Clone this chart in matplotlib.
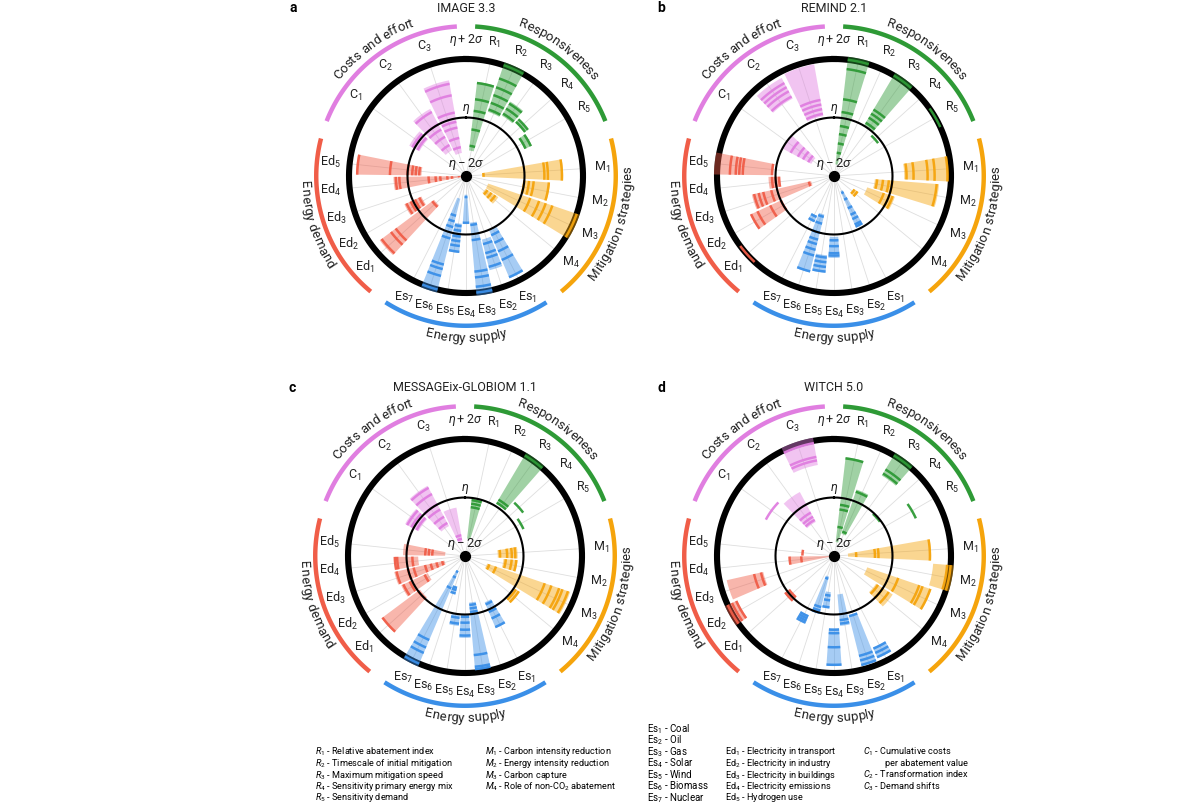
import numpy as np
import matplotlib
matplotlib.use("Agg")
import matplotlib.pyplot as plt
from matplotlib.font_manager import FontProperties

plt.rcParams['font.family'] = ['Roboto', 'DejaVu Sans']
plt.rcParams['mathtext.fontset'] = 'custom'
plt.rcParams['mathtext.rm'] = 'Roboto'
plt.rcParams['mathtext.it'] = 'Roboto:italic'
plt.rcParams['mathtext.bf'] = 'Roboto:bold'

# Indicator groups
groups = ['Responsiveness', 'Mitigation strategies', 'Energy supply',
          'Energy demand', 'Costs and effort']
group_sizes = [5, 4, 7, 5, 3]
group_colors = ['#2e9a36', '#f5a40c', '#3a8fe8', '#f05d48', '#e07ee0']
tick_labels = ['R$_1$', 'R$_2$', 'R$_3$', 'R$_4$', 'R$_5$',
               'M$_1$', 'M$_2$', 'M$_3$', 'M$_4$',
               'Es$_1$', 'Es$_2$', 'Es$_3$', 'Es$_4$', 'Es$_5$', 'Es$_6$', 'Es$_7$',
               'Ed$_1$', 'Ed$_2$', 'Ed$_3$', 'Ed$_4$', 'Ed$_5$',
               'C$_1$', 'C$_2$', 'C$_3$']

# values on the scale: 0 = eta - 2 sigma, 0.5 = eta, 1 = eta + 2 sigma
# order: R1-R5, M1-M4, Es1-Es7, Ed1-Ed5, C1-C3  (None = no range bar)
image_lo = [0.22, 0.58, 0.60, 0.62, 0.55, 0.14, 0.49, 0.20, 0.20,
            0.50, 0.56, 0.40, 0.16, 0.41, 0.20, None,
            0.34, 0.42, None, 0.04, 0.38, 0.45, 0.25, 0.20]
image_hi = [0.81, 1.00, 0.74, 0.66, 0.62, 0.83, 0.72, 1.00, 0.33,
            0.95, 0.83, 1.00, 0.40, 0.66, 1.00, None,
            0.92, 0.58, None, 0.62, 0.94, 0.55, 0.65, 0.83]
image_vals = [[0.26, 0.40, 0.56, 0.66, 0.80], [0.60, 0.66, 0.73, 0.80, 0.88, 1.0],
              [0.62, 0.67, 0.72], [0.63, 0.66], [0.56, 0.61],
              [0.15, 0.67, 0.70, 0.82], [0.50, 0.54, 0.58, 0.71],
              [0.58, 0.66, 0.72, 0.78, 1.0], [0.22, 0.26, 0.30],
              [0.55, 0.62, 0.70, 0.78, 0.94], [0.60, 0.68, 0.72, 0.80],
              [0.42, 0.55, 0.82, 0.87, 0.95, 1.0], [0.18, 0.40],
              [0.43, 0.47, 0.52, 0.56, 0.60, 0.65],
              [0.35, 0.40, 0.45, 0.55, 0.78, 0.82, 0.88, 1.0], [],
              [0.36, 0.75, 0.80, 0.90], [0.44, 0.48, 0.52, 0.56], [],
              [0.06, 0.12, 0.16, 0.22, 0.26, 0.32, 0.57, 0.60],
              [0.40, 0.43, 0.46, 0.50, 0.65, 0.93],
              [0.47, 0.52], [0.30, 0.38, 0.45, 0.50, 0.62],
              [0.25, 0.33, 0.42, 0.47, 0.55, 0.70, 0.80]]

remind_lo = [0.10, None, 0.50, None, None, 0.60, 0.35, 0.30, 0.20,
             0.14, None, None, 0.52, 0.68, 0.34, 0.37,
             None, 0.49, 0.20, 0.46, 0.52, 0.22, 0.75, 0.52]
remind_hi = [1.00, None, 1.00, None, None, 0.98, 0.90, 0.55, 0.25,
             0.48, None, None, 0.70, 0.83, 0.85, 0.43,
             None, 0.79, 0.72, 0.56, 1.00, 0.50, 0.95, 0.97]
remind_vals = [[0.20, 0.28, 0.36, 0.43, 0.55, 0.66, 0.92, 1.0], [],
               [0.53, 0.58, 0.62, 0.66, 1.0], [0.47], [1.0],
               [0.62, 0.68, 0.80, 0.86, 0.97], [0.37, 0.42, 0.47, 0.50, 0.88],
               [0.45, 0.50, 0.53], [0.21, 0.24],
               [0.16, 0.22, 0.30, 0.36, 0.40, 0.45, 0.47], [], [],
               [0.55, 0.60, 0.66, 0.68], [0.70, 0.74, 0.78, 0.82],
               [0.36, 0.42, 0.50, 0.56, 0.60, 0.65, 0.70, 0.84], [0.38, 0.42],
               [1.0], [0.50, 0.60, 0.72, 0.78], [0.22, 0.55, 0.62, 0.66, 0.70],
               [0.47, 0.50, 0.53], [0.53, 0.78, 0.81, 0.84, 0.89],
               [0.25, 0.30, 0.35, 0.42], [0.77, 0.82, 0.86, 0.90],
               [0.54, 0.58, 0.62, 0.66]]

message_lo = [0.15, None, 0.52, None, None, 0.28, 0.33, 0.20, 0.51,
              0.43, None, 0.40, 0.50, 0.50, 0.28, 0.14,
              0.48, 0.35, 0.18, 0.40, 0.17, 0.45, 0.29, 0.12]
message_hi = [0.50, None, 1.00, None, None, 0.45, 0.45, 0.95, 0.56,
              0.67, None, 0.98, 0.70, 0.60, 0.33, 1.00,
              0.89, 0.60, 0.62, 0.60, 0.53, 0.58, 0.68, 0.42]
message_vals = [[0.42, 0.45, 0.48], [], [0.53, 0.56, 1.0], [0.62], [0.55],
                [0.30, 0.36, 0.40, 0.43], [0.35, 0.40, 0.44],
                [0.22, 0.28, 0.72, 0.78, 0.85, 0.88, 0.93], [0.52, 0.55],
                [0.45, 0.52, 0.58, 0.66], [], [0.42, 0.45, 0.48, 0.85, 0.95, 0.97],
                [0.52, 0.57, 0.63, 0.68], [0.53, 0.58], [0.28, 0.30, 0.33],
                [0.15, 0.20, 0.30, 0.78, 0.85, 0.90, 1.0],
                [0.50, 0.88], [0.38, 0.52, 0.58],
                [0.20, 0.25, 0.30, 0.35, 0.45, 0.50, 0.60], [0.45, 0.58, 0.60],
                [0.28, 0.31, 0.34],
                [0.47, 0.52, 0.56], [0.32, 0.38, 0.45, 0.50, 0.60, 0.66], [0.15, 0.18]]

witch_lo = [0.12, 0.20, 0.80, None, None, 0.12, 0.85, 0.30, 0.43,
            0.85, 0.52, 0.33, 0.62, 0.31, 0.18, 0.55,
            0.48, 0.91, 0.62, 0.04, None, None, 0.33, 0.79]
witch_hi = [0.85, 0.60, 1.00, None, None, 0.83, 1.00, 0.88, 0.60,
            0.95, 0.97, 0.60, 0.94, 0.45, 0.50, 0.62,
            0.53, 1.00, 0.94, 0.38, None, None, 0.62, 1.00]
witch_vals = [[0.25, 0.40, 0.44, 0.84], [0.22, 0.58], [0.82, 0.86, 1.0], [0.49], [0.77],
              [0.19, 0.35, 0.38, 0.82], [0.97, 1.0], [0.58, 0.77, 0.80, 0.87],
              [0.45, 0.50, 0.56],
              [0.86, 0.90, 0.94], [0.53, 0.88, 0.92, 0.96], [0.55, 0.58],
              [0.63, 0.66, 0.78, 0.93], [0.34, 0.38, 0.44], [0.20, 0.45, 0.48, 0.50],
              [0.56, 0.58, 0.60, 0.62],
              [0.48, 0.52], [0.92, 0.96, 1.0], [0.64, 0.70], [0.28, 0.38], [0.27],
              [0.66], [0.35, 0.38, 0.42], [0.83, 0.86, 0.98]]

models = ['IMAGE 3.3', 'REMIND 2.1', 'MESSAGEix-GLOBIOM 1.1', 'WITCH 5.0']
letters = ['a', 'b', 'c', 'd']

legend_r = [r'$R_1$ - Relative abatement index', r'$R_2$ - Timescale of initial mitigation',
            r'$R_3$ - Maximum mitigation speed', r'$R_4$ - Sensitivity primary energy mix',
            r'$R_5$ - Sensitivity demand']
legend_m = [r'$M_1$ - Carbon intensity reduction', r'$M_2$ - Energy intensity reduction',
            r'$M_3$ - Carbon capture', r'$M_4$ - Role of non-CO$_2$ abatement']
legend_es = ['Es$_1$ - Coal', 'Es$_2$ - Oil', 'Es$_3$ - Gas', 'Es$_4$ - Solar',
             'Es$_5$ - Wind', 'Es$_6$ - Biomass', 'Es$_7$ - Nuclear']
legend_ed = ['Ed$_1$ - Electricity in transport', 'Ed$_2$ - Electricity in industry',
             'Ed$_3$ - Electricity in buildings', 'Ed$_4$ - Electricity emissions',
             'Ed$_5$ - Hydrogen use']
legend_c = [r'$C_1$ - Cumulative costs', 'per abatement value',
            r'$C_2$ - Transformation index', r'$C_3$ - Demand shifts']

W, H = 1200, 811
UNIT = 117.0      # pixels for eta + 2 sigma
RMAX = 1.5

fig = plt.figure(figsize=(W / 100, H / 100), dpi=100)
fig.patch.set_facecolor('white')
renderer = fig.canvas.get_renderer()

# indicator angles (clockwise from top): each group gets 72 degrees
angles, widths, colors = [], [], []
for k, n in enumerate(group_sizes):
    g = 36 + 72 * k
    step = 72 / (n + 1)
    for i in range(n):
        angles.append(g + (i - (n - 1) / 2) * step)
        widths.append(0.88 * step)
        colors.append(group_colors[k])


def text_width(s, fs):
    prop = FontProperties(family=['Roboto', 'DejaVu Sans'], size=fs)
    w, h, d = renderer.get_text_width_height_descent(s, prop, ismath=False)
    return w


def arc_text(ax, s, center, radius, fs):
    bar_w = text_width('|', fs)
    total = text_width(s + '|', fs) - bar_w
    rpx = radius * UNIT
    bottom = 90 < center % 360 < 270
    sign = -1 if bottom else 1
    shift = 3.6 / UNIT
    for i, ch in enumerate(s):
        if ch == ' ':
            continue
        a0 = text_width(s[:i] + '|', fs) - bar_w if i else 0
        a1 = text_width(s[:i + 1] + '|', fs) - bar_w
        off = np.degrees(((a0 + a1) / 2 - total / 2) / rpx)
        th = center + sign * off
        rot = 180 - th if bottom else -th
        r = radius + shift if bottom else radius - shift
        ax.text(np.radians(th), r, ch, rotation=rot, rotation_mode='anchor',
                ha='center', va='baseline', fontsize=fs, color='#222222')


def draw_panel(cx, cy, title, letter, lo, hi, vals):
    size = 2 * RMAX * UNIT
    ax = fig.add_axes([(cx - size / 2) / W, 1 - (cy + size / 2) / H, size / W, size / H],
                      projection='polar')
    ax.set_theta_zero_location('N')
    ax.set_theta_direction(-1)
    ax.set_ylim(0, RMAX)
    ax.axis('off')

    full = np.linspace(0, 2 * np.pi, 500)
    for th in angles:
        ax.plot([np.radians(th)] * 2, [0, 1], color='#dedede', lw=0.6, zorder=1)
    ax.plot(full, np.ones_like(full), color='black', lw=4.4, zorder=2)
    ax.plot(full, np.full_like(full, 0.5), color='black', lw=1.5, zorder=5)

    for j in range(len(angles)):
        th, w, c = np.radians(angles[j]), np.radians(widths[j]), colors[j]
        if lo[j] is not None:
            top = hi[j] + 0.026 if hi[j] >= 1.0 else hi[j]
            ax.bar(th, top - lo[j], width=w, bottom=lo[j], color=c, alpha=0.45,
                   linewidth=0, zorder=3)
        seg = np.linspace(th - w / 2, th + w / 2, 20)
        for v in vals[j]:
            ax.plot(seg, np.full_like(seg, v), color=c, lw=1.8, alpha=0.95,
                    solid_capstyle='butt', zorder=4)
        ax.text(th, 1.165, tick_labels[j], ha='center', va='center', fontsize=9,
                color='#222222')

    ax.scatter([0], [0], s=50, color='black', zorder=6)
    ax.text(0, 1.165, r'$\eta + 2\sigma$', ha='center', va='center', fontsize=9,
            color='#222222')
    ax.text(0, 0.575, r'$\eta$', ha='center', va='center', fontsize=9, color='#222222')
    ax.text(0, 0.1, r'$\eta - 2\sigma$', ha='center', va='center', fontsize=9.5,
            color='#222222')

    for k, name in enumerate(groups):
        g = 36 + 72 * k
        t = np.radians(np.linspace(g - 32.5, g + 32.5, 120))
        ax.plot(t, np.full_like(t, 1.28), color=group_colors[k], lw=3.2,
                solid_capstyle='butt', zorder=2)
        arc_text(ax, name, g, 1.385, 9.5)

    fig.text(cx / W, 1 - (cy - 168) / H, title, ha='center', va='center',
             fontsize=9, color='#222222')
    fig.text((cx - 173) / W, 1 - (cy - 168) / H, letter, ha='center', va='center',
             fontsize=10, fontweight='bold')


draw_panel(466, 176, models[0], letters[0], image_lo, image_hi, image_vals)
draw_panel(834, 176, models[1], letters[1], remind_lo, remind_hi, remind_vals)
draw_panel(465, 556, models[2], letters[2], message_lo, message_hi, message_vals)
draw_panel(834, 556, models[3], letters[3], witch_lo, witch_hi, witch_vals)

# legend text
LFS = 6.6
for i, s in enumerate(legend_r):
    fig.text(315 / W, 1 - (752 + 11.5 * i) / H, s, ha='left', va='center', fontsize=LFS)
for i, s in enumerate(legend_m):
    fig.text(485 / W, 1 - (752 + 11.5 * i) / H, s, ha='left', va='center', fontsize=LFS)
for i, s in enumerate(legend_es):
    fig.text(647 / W, 1 - (729 + 11.45 * i) / H, s, ha='left', va='center', fontsize=7)
for i, s in enumerate(legend_ed):
    fig.text(725 / W, 1 - (752 + 11.5 * i) / H, s, ha='left', va='center', fontsize=LFS)
for i, s in enumerate(legend_c):
    x = 885 if i == 1 else 863
    fig.text(x / W, 1 - (752 + 11.5 * i) / H, s, ha='left', va='center', fontsize=LFS)

fig.savefig('out.png', dpi=100)
